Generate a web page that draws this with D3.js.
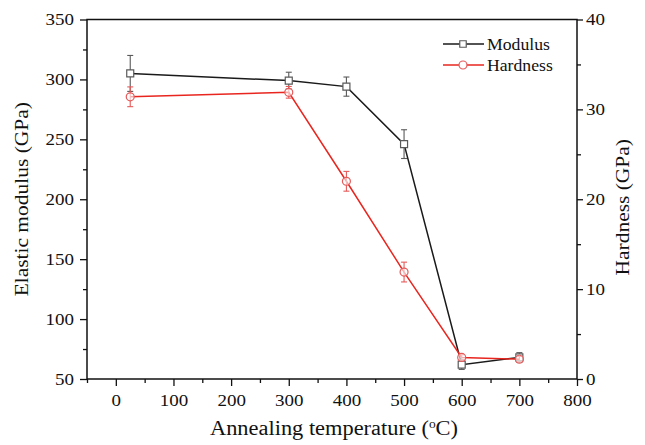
<!DOCTYPE html>
<html>
<head>
<meta charset="utf-8">
<script src="https://cdn.jsdelivr.net/npm/d3@7"></script>
<style>
  body { margin: 0; background: #fff; }
  svg text { font-family: "Liberation Serif", "Times New Roman", serif; fill: #111; }
</style>
</head>
<body>
<svg id="chart" width="645" height="445"></svg>
<script>
// data
const temps = [25, 300, 400, 500, 600, 700];
const modulus = [305, 299, 294, 246, 62, 68];
const modulusErr = [15, 7, 8, 12, 4, 4];
const hardness = [31.4, 31.9, 22.0, 11.9, 2.4, 2.2];
const hardnessErr = [1.1, 0.65, 1.1, 1.1, 0.3, 0.3];

const xTicks = [0, 100, 200, 300, 400, 500, 600, 700, 800];
const xMinor = [-50, 50, 150, 250, 350, 450, 550, 650, 750];
const yLeftTicks = [50, 100, 150, 200, 250, 300, 350];
const yLeftMinor = [75, 125, 175, 225, 275, 325];
const yRightTicks = [0, 10, 20, 30, 40];
const yRightMinor = [5, 15, 25, 35];

const margin = { top: 19.5, right: 68, bottom: 66, left: 87 };
const W = 645, H = 445;
const svg = d3.select("#chart");
const g = svg.append("g");

const x = d3.scaleLinear().domain([-50, 800]).range([margin.left, W - margin.right]);
const yL = d3.scaleLinear().domain([50, 350]).range([H - margin.bottom, margin.top]);
const yR = d3.scaleLinear().domain([0, 40]).range([H - margin.bottom, margin.top]);

const COLOR = {
  modLine: "#1a1a1a",
  modMark: "#5a5a5a",
  hardLine: "#e8261f",
  hardMark: "#e65a5a"
};

// stretch text horizontally a bit, the original type is wide
function stretch(sel, k) {
  sel.each(function () {
    const len = this.getComputedTextLength();
    d3.select(this).attr("textLength", len * k).attr("lengthAdjust", "spacingAndGlyphs");
  });
}

function styleAxis(a) {
  a.select(".domain").remove();
  a.selectAll("line").attr("stroke", "#111").attr("stroke-width", 1.3);
  a.selectAll("text").style("font-size", "16.5px").attr("fill", "#111");
}

// minor ticks
g.append("g").attr("transform", `translate(0,${H - margin.bottom})`)
  .call(d3.axisBottom(x).tickValues(xMinor).tickSize(4).tickFormat(""))
  .call(styleAxis);
g.append("g").attr("transform", `translate(${margin.left},0)`)
  .call(d3.axisLeft(yL).tickValues(yLeftMinor).tickSize(4).tickFormat(""))
  .call(styleAxis);
g.append("g").attr("transform", `translate(${W - margin.right},0)`)
  .call(d3.axisRight(yR).tickValues(yRightMinor).tickSize(4).tickFormat(""))
  .call(styleAxis);

// major ticks
const xAxis = g.append("g").attr("transform", `translate(0,${H - margin.bottom})`)
  .call(d3.axisBottom(x).tickValues(xTicks).tickSize(7).tickPadding(8))
  .call(styleAxis);
const yLAxis = g.append("g").attr("transform", `translate(${margin.left},0)`)
  .call(d3.axisLeft(yL).tickValues(yLeftTicks).tickSize(7).tickPadding(6))
  .call(styleAxis);
const yRAxis = g.append("g").attr("transform", `translate(${W - margin.right},0)`)
  .call(d3.axisRight(yR).tickValues(yRightTicks).tickSize(6).tickPadding(3))
  .call(styleAxis);
[xAxis, yLAxis, yRAxis].forEach(a => stretch(a.selectAll("text"), 1.15));

// frame
g.append("rect")
  .attr("x", margin.left).attr("y", margin.top)
  .attr("width", W - margin.right - margin.left)
  .attr("height", H - margin.bottom - margin.top)
  .attr("fill", "none").attr("stroke", "#111").attr("stroke-width", 1.5);

// axis titles
const xt = g.append("text")
  .attr("x", (margin.left + W - margin.right) / 2 + 2).attr("y", 435)
  .attr("text-anchor", "middle").style("font-size", "20px");
xt.append("tspan").text("Annealing temperature (");
xt.append("tspan").text("o").attr("dy", -7).style("font-size", "12px");
xt.append("tspan").text("C)").attr("dy", 7);
stretch(xt, 1.12);

const ylt = g.append("text")
  .attr("transform", `translate(28,${(margin.top + H - margin.bottom) / 2}) rotate(-90)`)
  .attr("text-anchor", "middle").style("font-size", "19.5px")
  .text("Elastic modulus (GPa)");
stretch(ylt, 1.1);

const yrt = g.append("text")
  .attr("transform", `translate(629,${(margin.top + H - margin.bottom) / 2 + 8}) rotate(-90)`)
  .attr("text-anchor", "middle").style("font-size", "19.5px")
  .text("Hardness (GPa)");
stretch(yrt, 1.1);

// series
function drawSeries(vals, errs, y, lineColor, markColor, shape) {
  const pts = temps.map((t, i) => ({ t: t, v: vals[i], e: errs[i] }));
  const s = g.append("g");
  s.append("path").datum(pts)
    .attr("fill", "none").attr("stroke", lineColor).attr("stroke-width", 1.5)
    .attr("d", d3.line().x(d => x(d.t)).y(d => y(d.v)));

  const eb = s.selectAll(".err").data(pts).enter().append("g")
    .attr("stroke", markColor).attr("stroke-width", 1.1);
  eb.append("line").attr("x1", d => x(d.t)).attr("x2", d => x(d.t))
    .attr("y1", d => y(d.v - d.e)).attr("y2", d => y(d.v + d.e));
  eb.append("line").attr("x1", d => x(d.t) - 3).attr("x2", d => x(d.t) + 3)
    .attr("y1", d => y(d.v + d.e)).attr("y2", d => y(d.v + d.e));
  eb.append("line").attr("x1", d => x(d.t) - 3).attr("x2", d => x(d.t) + 3)
    .attr("y1", d => y(d.v - d.e)).attr("y2", d => y(d.v - d.e));

  const sym = d3.symbol().type(shape === "square" ? d3.symbolSquare : d3.symbolCircle)
    .size(shape === "square" ? 49 : 50);
  s.selectAll(".mark").data(pts).enter().append("path")
    .attr("transform", d => `translate(${x(d.t)},${y(d.v)})`)
    .attr("d", sym)
    .attr("fill", "#fff").attr("fill-opacity", shape === "square" ? 1 : 0.6)
    .attr("stroke", markColor).attr("stroke-width", 1.2);
}

drawSeries(modulus, modulusErr, yL, COLOR.modLine, COLOR.modMark, "square");
drawSeries(hardness, hardnessErr, yR, COLOR.hardLine, COLOR.hardMark, "circle");

// legend
const legend = g.append("g");
const legendItems = [
  { name: "Modulus", line: COLOR.modLine, mark: COLOR.modMark, shape: d3.symbolSquare, size: 42, y: 44 },
  { name: "Hardness", line: COLOR.hardLine, mark: COLOR.hardMark, shape: d3.symbolCircle, size: 50, y: 65 }
];
legendItems.forEach(it => {
  legend.append("line").attr("x1", 443).attr("x2", 484).attr("y1", it.y).attr("y2", it.y)
    .attr("stroke", it.line).attr("stroke-width", 1.5);
  legend.append("path").attr("transform", `translate(463,${it.y})`)
    .attr("d", d3.symbol().type(it.shape).size(it.size)())
    .attr("fill", "#fff").attr("stroke", it.mark).attr("stroke-width", 1.2);
  const t = legend.append("text").attr("x", 487).attr("y", it.y + 5.5)
    .style("font-size", "17px").text(it.name);
  stretch(t, 1.04);
});
</script>
</body>
</html>
